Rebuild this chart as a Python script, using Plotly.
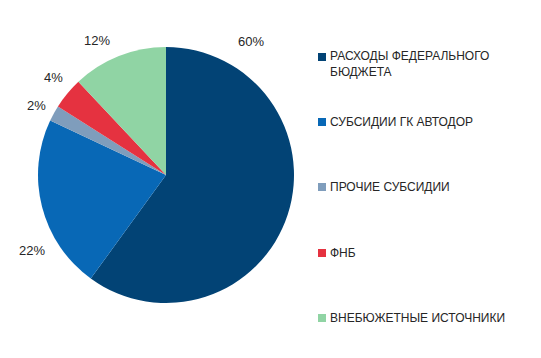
import plotly.graph_objects as go

labels = ["РАСХОДЫ ФЕДЕРАЛЬНОГО<br>БЮДЖЕТА", "СУБСИДИИ ГК АВТОДОР", "ПРОЧИЕ СУБСИДИИ", "ФНБ", "ВНЕБЮЖЕТНЫЕ ИСТОЧНИКИ"]
values = [60, 22, 2, 4, 12]
colors = ["#024375", "#0868B6", "#7F9DBC", "#E53240", "#90D4A4"]

# layout positions (pixels in the 541x358 canvas)
W, H = 541, 358
label_px = [(251, 41), (32, 250), (36, 106), (53, 78), (97, 40)]
legend_py = [57, 122, 187, 253, 318]
legend_text_x = 329
legend_sq_x = 318

fig = go.Figure()
fig.add_trace(go.Pie(
    labels=labels, values=values, sort=False, direction="clockwise", rotation=0,
    marker=dict(colors=colors, line=dict(width=0)),
    textinfo="none", showlegend=False, hoverinfo="label+percent",
    domain=dict(x=[38 / W, 294 / W], y=[1 - 303 / H, 1 - 47 / H]),
))

for v, (px, py) in zip(values, label_px):
    fig.add_annotation(xref="paper", yref="paper", x=px / W, y=1 - py / H,
                       xanchor="center", yanchor="middle", text=f"{v}%", showarrow=False,
                       font=dict(family="Liberation Sans, Arial", size=13, color="#262626"))

for lab, col, py in zip(labels, colors, legend_py):
    fig.add_shape(type="rect", xref="paper", yref="paper",
                  x0=legend_sq_x / W, x1=(legend_sq_x + 8) / W,
                  y0=1 - (py + 4) / H, y1=1 - (py - 4) / H,
                  fillcolor=col, line=dict(width=0))
    fig.add_annotation(xref="paper", yref="paper", x=legend_text_x / W, y=1 - py / H,
                       xanchor="left", yanchor="top" if "<br>" in lab else "middle",
                       yshift=9 if "<br>" in lab else 0,
                       text=lab, showarrow=False, align="left", borderpad=0,
                       font=dict(family="Liberation Sans, Arial", size=12, color="#262626"))

fig.update_layout(width=W, height=H, margin=dict(l=0, r=0, t=0, b=0),
                  paper_bgcolor="white", plot_bgcolor="white")
fig.write_html("out.html")
